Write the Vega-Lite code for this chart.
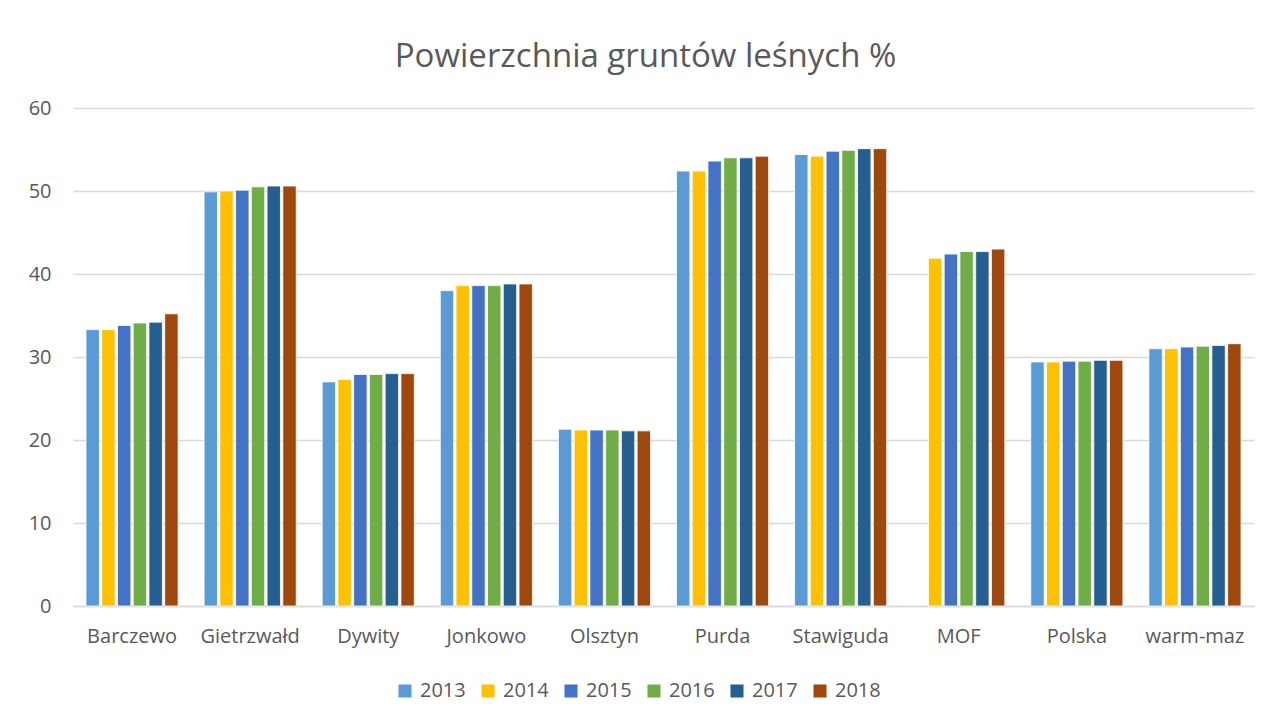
{
  "$schema": "https://vega.github.io/schema/vega-lite/v6.json",
  "width": 1181,
  "height": 498,
  "autosize": {"type": "none"},
  "padding": {"left": 73, "top": 108, "right": 17, "bottom": 116},
  "background": "white",
  "title": {
    "text": "Powierzchnia gruntów leśnych %",
    "fontSize": 33,
    "font": "Open Sans",
    "fontWeight": "normal",
    "color": "#595959",
    "anchor": "middle",
    "dx": -18,
    "offset": 24
  },
  "data": {
    "values": [
      {"gmina": "Barczewo", "rok": "2013", "v": 33.3},
      {"gmina": "Barczewo", "rok": "2014", "v": 33.3},
      {"gmina": "Barczewo", "rok": "2015", "v": 33.8},
      {"gmina": "Barczewo", "rok": "2016", "v": 34.1},
      {"gmina": "Barczewo", "rok": "2017", "v": 34.2},
      {"gmina": "Barczewo", "rok": "2018", "v": 35.2},
      {"gmina": "Gietrzwałd", "rok": "2013", "v": 49.9},
      {"gmina": "Gietrzwałd", "rok": "2014", "v": 50.0},
      {"gmina": "Gietrzwałd", "rok": "2015", "v": 50.1},
      {"gmina": "Gietrzwałd", "rok": "2016", "v": 50.5},
      {"gmina": "Gietrzwałd", "rok": "2017", "v": 50.6},
      {"gmina": "Gietrzwałd", "rok": "2018", "v": 50.6},
      {"gmina": "Dywity", "rok": "2013", "v": 27.0},
      {"gmina": "Dywity", "rok": "2014", "v": 27.3},
      {"gmina": "Dywity", "rok": "2015", "v": 27.9},
      {"gmina": "Dywity", "rok": "2016", "v": 27.9},
      {"gmina": "Dywity", "rok": "2017", "v": 28.0},
      {"gmina": "Dywity", "rok": "2018", "v": 28.0},
      {"gmina": "Jonkowo", "rok": "2013", "v": 38.0},
      {"gmina": "Jonkowo", "rok": "2014", "v": 38.6},
      {"gmina": "Jonkowo", "rok": "2015", "v": 38.6},
      {"gmina": "Jonkowo", "rok": "2016", "v": 38.6},
      {"gmina": "Jonkowo", "rok": "2017", "v": 38.8},
      {"gmina": "Jonkowo", "rok": "2018", "v": 38.8},
      {"gmina": "Olsztyn", "rok": "2013", "v": 21.3},
      {"gmina": "Olsztyn", "rok": "2014", "v": 21.2},
      {"gmina": "Olsztyn", "rok": "2015", "v": 21.2},
      {"gmina": "Olsztyn", "rok": "2016", "v": 21.2},
      {"gmina": "Olsztyn", "rok": "2017", "v": 21.1},
      {"gmina": "Olsztyn", "rok": "2018", "v": 21.1},
      {"gmina": "Purda", "rok": "2013", "v": 52.4},
      {"gmina": "Purda", "rok": "2014", "v": 52.4},
      {"gmina": "Purda", "rok": "2015", "v": 53.6},
      {"gmina": "Purda", "rok": "2016", "v": 54.0},
      {"gmina": "Purda", "rok": "2017", "v": 54.0},
      {"gmina": "Purda", "rok": "2018", "v": 54.2},
      {"gmina": "Stawiguda", "rok": "2013", "v": 54.4},
      {"gmina": "Stawiguda", "rok": "2014", "v": 54.2},
      {"gmina": "Stawiguda", "rok": "2015", "v": 54.8},
      {"gmina": "Stawiguda", "rok": "2016", "v": 54.9},
      {"gmina": "Stawiguda", "rok": "2017", "v": 55.1},
      {"gmina": "Stawiguda", "rok": "2018", "v": 55.1},
      {"gmina": "MOF", "rok": "2014", "v": 41.9},
      {"gmina": "MOF", "rok": "2015", "v": 42.4},
      {"gmina": "MOF", "rok": "2016", "v": 42.7},
      {"gmina": "MOF", "rok": "2017", "v": 42.7},
      {"gmina": "MOF", "rok": "2018", "v": 43.0},
      {"gmina": "Polska", "rok": "2013", "v": 29.4},
      {"gmina": "Polska", "rok": "2014", "v": 29.4},
      {"gmina": "Polska", "rok": "2015", "v": 29.5},
      {"gmina": "Polska", "rok": "2016", "v": 29.5},
      {"gmina": "Polska", "rok": "2017", "v": 29.6},
      {"gmina": "Polska", "rok": "2018", "v": 29.6},
      {"gmina": "warm-maz", "rok": "2013", "v": 31.0},
      {"gmina": "warm-maz", "rok": "2014", "v": 31.0},
      {"gmina": "warm-maz", "rok": "2015", "v": 31.2},
      {"gmina": "warm-maz", "rok": "2016", "v": 31.3},
      {"gmina": "warm-maz", "rok": "2017", "v": 31.4},
      {"gmina": "warm-maz", "rok": "2018", "v": 31.6}
    ]
  },
  "mark": {"type": "bar", "stroke": "white", "strokeWidth": 0.8},
  "encoding": {
    "x": {
      "field": "gmina",
      "type": "nominal",
      "sort": ["Barczewo", "Gietrzwałd", "Dywity", "Jonkowo", "Olsztyn", "Purda", "Stawiguda", "MOF", "Polska", "warm-maz"],
      "scale": {"paddingInner": 0.22, "paddingOuter": 0.11},
      "axis": {
        "title": null,
        "labelAngle": 0,
        "labelFontSize": 20,
        "labelFont": "Open Sans",
        "labelColor": "#595959",
        "labelPadding": 20,
        "ticks": false,
        "domainColor": "#D9D9D9",
        "domainWidth": 1.5
      }
    },
    "xOffset": {
      "field": "rok",
      "type": "nominal",
      "scale": {"paddingInner": 0.15}
    },
    "y": {
      "field": "v",
      "type": "quantitative",
      "scale": {"domain": [0, 60]},
      "axis": {
        "title": null,
        "values": [0, 10, 20, 30, 40, 50, 60],
        "labelFontSize": 20,
        "labelFont": "Open Sans",
        "labelColor": "#595959",
        "labelPadding": 22,
        "ticks": false,
        "domain": false,
        "gridColor": "#D9D9D9",
        "gridWidth": 1.5
      }
    },
    "color": {
      "field": "rok",
      "type": "nominal",
      "scale": {
        "domain": ["2013", "2014", "2015", "2016", "2017", "2018"],
        "range": ["#5B9BD5", "#FFC000", "#4472C4", "#70AD47", "#255E91", "#9E480E"]
      },
      "legend": {
        "title": null,
        "orient": "none",
        "legendX": 322,
        "legendY": 573,
        "direction": "horizontal",
        "symbolType": "square",
        "symbolSize": 170,
        "symbolStrokeWidth": 0,
        "labelFontSize": 20,
        "labelFont": "Open Sans",
        "labelColor": "#595959",
        "labelOffset": 5,
        "columnPadding": 12
      }
    }
  },
  "config": {
    "view": {"stroke": null}
  }
}
